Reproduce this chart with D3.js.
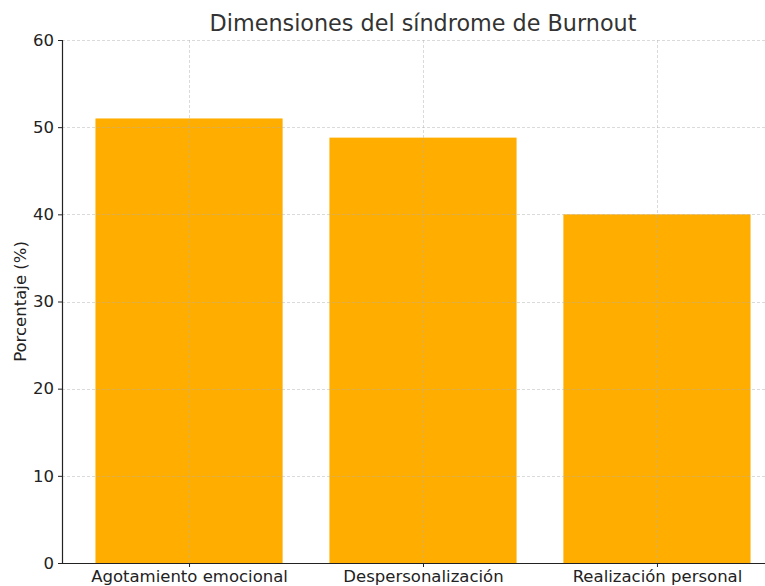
<!DOCTYPE html>
<html>
<head>
<meta charset="utf-8">
<script src="https://cdn.jsdelivr.net/npm/d3@7"></script>
<style>
  body { margin: 0; background: #fff; }
  svg { font-family: "DejaVu Sans", sans-serif; }
</style>
</head>
<body>
<svg width="765" height="586"></svg>
<script>
// datos del grafico
var categories = ["Agotamiento emocional", "Despersonalización", "Realización personal"];
var values = [51.0, 48.8, 40.0];
var yTicks = [0, 10, 20, 30, 40, 50, 60];
var title = "Dimensiones del síndrome de Burnout";
var yLabel = "Porcentaje (%)";

var svg = d3.select("svg");
var plotLeft = 62, plotRight = 784, plotTop = 40, plotBottom = 563;

// escala x continua como en matplotlib (ancho barra 0.8)
var x = d3.scaleLinear()
    .domain([-0.543, categories.length - 1 + 0.543])
    .range([plotLeft, plotRight]);
var barW = x(0.8) - x(0);

var y = d3.scaleLinear()
    .domain([0, 60])
    .range([plotBottom, plotTop]);

// barras
svg.append("g")
    .selectAll("rect")
    .data(values)
    .enter()
    .append("rect")
    .attr("x", function (d, i) {
        return x(i) - barW / 2
    })
    .attr("y", function (d) {
        return y(d)
    })
    .attr("width", barW)
    .attr("height", function (d) {
        return y(0) - y(d)
    })
    .attr("fill", "#ffae00");

// rejilla (encima de las barras)
var grid = svg.append("g");
grid.selectAll("line.h")
    .data(yTicks)
    .enter()
    .append("line")
    .attr("x1", plotLeft)
    .attr("x2", plotRight)
    .attr("y1", function (d) { return Math.round(y(d)) + 0.5 })
    .attr("y2", function (d) { return Math.round(y(d)) + 0.5 })
    .attr("stroke", "#b0b0b0")
    .attr("stroke-opacity", 0.6)
    .attr("stroke-dasharray", "3,2")
    .attr("stroke-width", 0.8);
grid.selectAll("line.v")
    .data(categories)
    .enter()
    .append("line")
    .attr("x1", function (d, i) { return Math.round(x(i)) + 0.5 })
    .attr("x2", function (d, i) { return Math.round(x(i)) + 0.5 })
    .attr("y1", plotTop)
    .attr("y2", plotBottom)
    .attr("stroke", "#b0b0b0")
    .attr("stroke-opacity", 0.6)
    .attr("stroke-dasharray", "3,2")
    .attr("stroke-width", 0.8);

// eje y
var yAxis = d3.axisLeft(y)
    .tickValues(yTicks)
    .tickSize(4)
    .tickPadding(4);
var gy = svg.append("g")
    .attr("transform", "translate(" + plotLeft + ",0)")
    .call(yAxis);
gy.select(".domain").attr("stroke", "#222").attr("stroke-width", 1.2);
gy.selectAll(".tick line").attr("stroke", "#222");
gy.selectAll("text")
    .attr("font-size", 16.5)
    .attr("fill", "#222")
    .attr("font-family", "DejaVu Sans");

// eje x
var xAxis = d3.axisBottom(x)
    .tickValues(d3.range(categories.length))
    .tickFormat(function (d) { return categories[d] })
    .tickSize(4)
    .tickPadding(3)
    .tickSizeOuter(0);
var gx = svg.append("g")
    .attr("transform", "translate(0," + plotBottom + ")")
    .call(xAxis);
gx.select(".domain").attr("stroke", "#222").attr("stroke-width", 1.2);
gx.selectAll(".tick line").attr("stroke", "#222");
gx.selectAll("text")
    .attr("font-size", 16.5)
    .attr("fill", "#222")
    .attr("font-family", "DejaVu Sans");

// titulo
svg.append("text")
    .attr("x", 423)
    .attr("y", 31)
    .attr("text-anchor", "middle")
    .attr("font-size", 22.3)
    .attr("fill", "#333")
    .text(title);

// etiqueta eje y
svg.append("text")
    .attr("transform", "translate(26," + ((plotTop + plotBottom) / 2) + ") rotate(-90)")
    .attr("text-anchor", "middle")
    .attr("font-size", 16.5)
    .attr("fill", "#222")
    .text(yLabel);
</script>
</body>
</html>
